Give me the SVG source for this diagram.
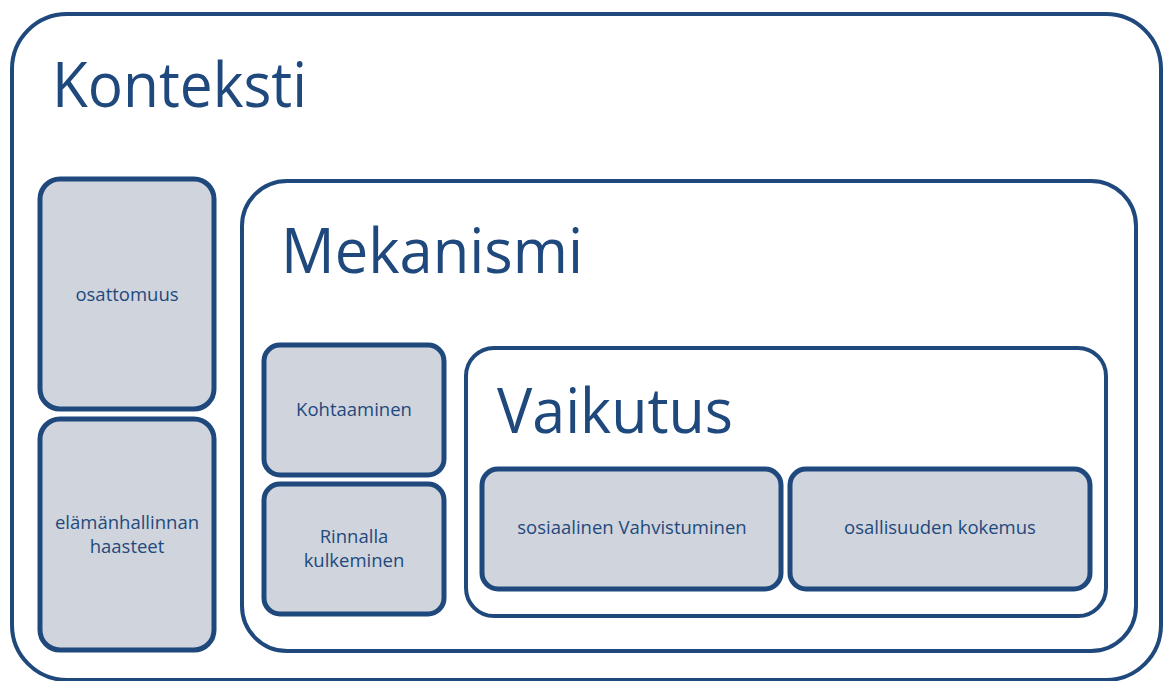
<svg xmlns="http://www.w3.org/2000/svg" width="1165" height="681" viewBox="0 0 1165 681">
<style>
  .frame { fill: #ffffff; stroke: #1f497d; stroke-width: 4; }
  .box { fill: #d0d4dc; stroke: #1f497d; stroke-width: 5; }
  .title { font-family: "Open Sans", "Noto Sans", sans-serif; font-size: 62px; fill: #1f497d; }
  .label { font-family: "Open Sans", "Noto Sans", sans-serif; font-size: 18.5px; fill: #1f497d; text-anchor: middle; }
</style>
<rect width="1165" height="681" fill="#ffffff"/>
<g id="konteksti">
  <rect class="frame" x="12" y="14" width="1149" height="666" rx="55" ry="55"/>
  <text class="title" x="52" y="107" textLength="255" lengthAdjust="spacingAndGlyphs">Konteksti</text>
</g>
<g id="osattomuus">
  <rect class="box" x="40" y="179" width="174" height="230" rx="20" ry="20"/>
  <text class="label" x="127" y="301">osattomuus</text>
</g>
<g id="elamanhallinnan">
  <rect class="box" x="40" y="419" width="174" height="231" rx="20" ry="20"/>
  <text class="label" x="127" y="529">elämänhallinnan</text>
  <text class="label" x="127" y="553">haasteet</text>
</g>
<g id="mekanismi">
  <rect class="frame" x="242" y="181" width="894" height="470" rx="45" ry="45"/>
  <text class="title" x="281" y="273" textLength="302" lengthAdjust="spacingAndGlyphs">Mekanismi</text>
</g>
<g id="kohtaaminen">
  <rect class="box" x="264" y="345" width="180" height="130" rx="16" ry="16"/>
  <text class="label" x="354" y="416">Kohtaaminen</text>
</g>
<g id="rinnalla">
  <rect class="box" x="264" y="484" width="180" height="130" rx="16" ry="16"/>
  <text class="label" x="354" y="543">Rinnalla</text>
  <text class="label" x="354" y="567">kulkeminen</text>
</g>
<g id="vaikutus">
  <rect class="frame" x="466" y="348" width="640" height="268" rx="28" ry="28"/>
  <text class="title" x="497" y="433" textLength="236" lengthAdjust="spacingAndGlyphs">Vaikutus</text>
</g>
<g id="sosiaalinen">
  <rect class="box" x="482" y="469" width="299" height="120" rx="16" ry="16"/>
  <text class="label" x="632" y="534">sosiaalinen Vahvistuminen</text>
</g>
<g id="osallisuuden">
  <rect class="box" x="790" y="469" width="300" height="120" rx="16" ry="16"/>
  <text class="label" x="940" y="534">osallisuuden kokemus</text>
</g>
<g id="connectors"></g>
</svg>
